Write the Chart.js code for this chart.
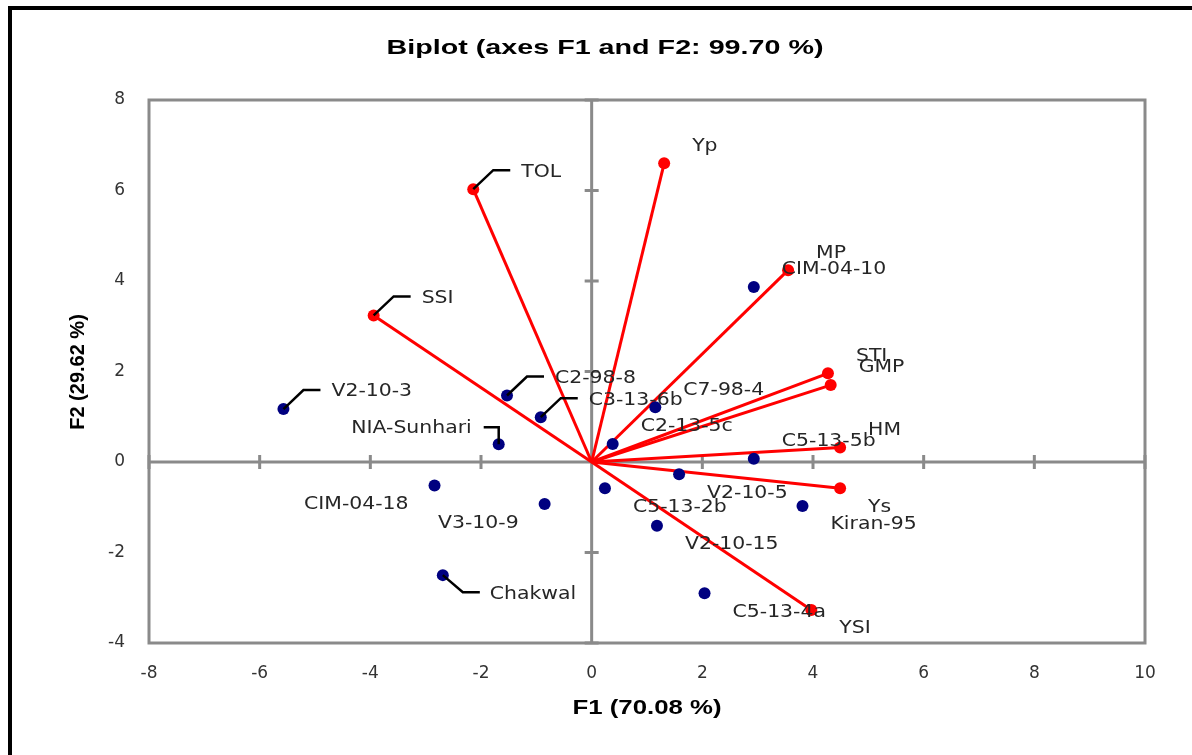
<!DOCTYPE html>
<html>
<head>
<meta charset="utf-8">
<script src="https://cdn.jsdelivr.net/npm/chart.js@4.4.1/dist/chart.umd.min.js"></script>
<style>
  html, body { margin: 0; padding: 0; background: #fff; }
  #wrap { position: relative; width: 1192px; height: 755px; overflow: hidden; }
  #frame { position: absolute; left: 8px; top: 6px; width: 1300px; height: 900px;
           border-left: 4px solid #000; border-top: 4px solid #000; }
  canvas { position: absolute; left: 0; top: 0; }
</style>
</head>
<body>
<div id="wrap">
  <div id="frame"></div>
  <canvas id="biplot" width="1192" height="755"></canvas>
</div>
<script>
// === Variables (red vectors) ===
const varNames = ['TOL', 'SSI', 'Yp', 'MP', 'STI', 'GMP', 'HM', 'Ys', 'YSI'];
const varF1 = [-2.14, -3.94, 1.31, 3.55, 4.27, 4.32, 4.49, 4.49, 3.97];
const varF2 = [6.03, 3.24, 6.60, 4.24, 1.96, 1.70, 0.32, -0.58, -3.27];

// === Observations (blue points) ===
const obsNames = ['V2-10-3', 'C2-98-8', 'C3-13-6b', 'NIA-Sunhari', 'CIM-04-10', 'C7-98-4',
  'C2-13-5c', 'C5-13-5b', 'V2-10-5', 'C5-13-2b', 'V2-10-15', 'Kiran-95', 'C5-13-4a',
  'CIM-04-18', 'V3-10-9', 'Chakwal'];
const obsF1 = [-5.57, -1.53, -0.92, -1.68, 2.93, 1.15, 0.38, 2.93, 1.58, 0.24, 1.18, 3.81, 2.04, -2.84, -0.85, -2.69];
const obsF2 = [1.17, 1.47, 0.99, 0.39, 3.87, 1.21, 0.40, 0.07, -0.27, -0.58, -1.41, -0.97, -2.90, -0.52, -0.93, -2.50];

// axis ticks
const xTicks = [-8, -6, -4, -2, 0, 2, 4, 6, 8, 10];
const yTicks = [-4, -2, 0, 2, 4, 6, 8];

const titleText = 'Biplot (axes F1 and F2: 99.70 %)';
const xTitle = 'F1 (70.08 %)';
const yTitle = 'F2 (29.62 %)';

// where each label sits relative to its point (default: above right)
const labelSpot = {
  'TOL': 'lead', 'SSI': 'lead', 'V2-10-3': 'lead', 'C2-98-8': 'lead', 'C3-13-6b': 'lead',
  'NIA-Sunhari': 'leadL', 'Chakwal': 'leadD',
  'CIM-04-18': 'bl', 'V3-10-9': 'bl',
  'V2-10-5': 'br', 'C5-13-2b': 'br', 'Ys': 'br', 'Kiran-95': 'br',
  'V2-10-15': 'br', 'C5-13-4a': 'br', 'YSI': 'br'
};

const GREY = '#8a8a8a';
const RED = '#ff0000';
const NAVY = '#000080';

function stretched(ctx, text, x, y, align, sx) {
  ctx.save();
  ctx.translate(x, y);
  ctx.scale(sx, 1);
  ctx.textAlign = align;
  ctx.textBaseline = 'middle';
  ctx.fillText(text, 0, 0);
  ctx.restore();
}

function fitText(ctx, text, cx, cy, width) {
  const w = ctx.measureText(text).width;
  stretched(ctx, text, cx, cy, 'center', width / w);
}

// frame, zero axes and their tick marks
const axesPlugin = {
  id: 'axesPlugin',
  beforeDatasetsDraw(chart) {
    const { ctx, chartArea: a, scales: { x, y } } = chart;
    const x0 = x.getPixelForValue(0), y0 = y.getPixelForValue(0);
    ctx.save();
    ctx.strokeStyle = GREY;
    ctx.lineWidth = 3;
    ctx.strokeRect(a.left, a.top, a.right - a.left, a.bottom - a.top);
    ctx.beginPath();
    ctx.moveTo(a.left, y0); ctx.lineTo(a.right, y0);
    ctx.moveTo(x0, a.top); ctx.lineTo(x0, a.bottom);
    xTicks.forEach(v => {
      if (v === 0) return;
      const px = x.getPixelForValue(v);
      ctx.moveTo(px, y0 - 7); ctx.lineTo(px, y0 + 7);
    });
    yTicks.forEach(v => {
      if (v === 0) return;
      const py = y.getPixelForValue(v);
      ctx.moveTo(x0 - 7, py); ctx.lineTo(x0 + 7, py);
    });
    ctx.stroke();
    ctx.restore();
  },
  afterDatasetsDraw(chart) {
    const { ctx, scales: { x, y } } = chart;
    ctx.save();
    ctx.fillStyle = '#262626';
    ctx.font = '17px "DejaVu Sans"';
    const sx = 1.2;

    const put = (name, vx, vy) => {
      const px = x.getPixelForValue(vx), py = y.getPixelForValue(vy);
      const spot = labelSpot[name] || 'ar';
      ctx.strokeStyle = '#000';
      ctx.lineWidth = 2.5;
      if (spot === 'lead') {
        ctx.beginPath();
        ctx.moveTo(px, py); ctx.lineTo(px + 20, py - 19); ctx.lineTo(px + 37, py - 19);
        ctx.stroke();
        stretched(ctx, name, px + 48, py - 17, 'left', sx);
      } else if (spot === 'leadD') {
        ctx.beginPath();
        ctx.moveTo(px, py); ctx.lineTo(px + 20, py + 17); ctx.lineTo(px + 37, py + 17);
        ctx.stroke();
        stretched(ctx, name, px + 47, py + 19, 'left', sx);
      } else if (spot === 'leadL') {
        ctx.beginPath();
        ctx.moveTo(px, py); ctx.lineTo(px, py - 17); ctx.lineTo(px - 15, py - 17);
        ctx.stroke();
        stretched(ctx, name, px - 27, py - 16, 'right', sx);
      } else if (spot === 'br') {
        stretched(ctx, name, px + 28, py + 19, 'left', sx);
      } else if (spot === 'bl') {
        stretched(ctx, name, px - 26, py + 19, 'right', sx);
      } else {
        stretched(ctx, name, px + 28, py - 17, 'left', sx);
      }
    };
    obsNames.forEach((n, i) => put(n, obsF1[i], obsF2[i]));
    varNames.forEach((n, i) => put(n, varF1[i], varF2[i]));

    // titles
    ctx.fillStyle = '#000';
    ctx.font = 'bold 21px "Liberation Sans"';
    fitText(ctx, titleText, 605, 48, 437);
    ctx.font = 'bold 20px "Liberation Sans"';
    fitText(ctx, xTitle, 647, 708, 149);
    ctx.save();
    ctx.translate(78, 372);
    ctx.rotate(-Math.PI / 2);
    ctx.textAlign = 'center';
    ctx.textBaseline = 'middle';
    ctx.fillText(yTitle, 0, 0);
    ctx.restore();
    ctx.restore();
  }
};

const vectorSets = varNames.map((n, i) => ({
  label: n,
  data: [{ x: 0, y: 0 }, { x: varF1[i], y: varF2[i] }],
  showLine: true,
  borderColor: RED,
  borderWidth: 3,
  pointRadius: [0, 6],
  pointBackgroundColor: RED,
  pointBorderColor: RED,
  pointBorderWidth: 0
}));

new Chart(document.getElementById('biplot'), {
  type: 'scatter',
  data: {
    datasets: [{
      label: 'Observations',
      data: obsNames.map((n, i) => ({ x: obsF1[i], y: obsF2[i] })),
      pointRadius: 6,
      pointBackgroundColor: NAVY,
      pointBorderColor: NAVY,
      pointBorderWidth: 0
    }, ...vectorSets]
  },
  options: {
    responsive: false,
    animation: false,
    events: [],
    layout: { padding: { top: 100, right: 47, left: 0, bottom: 0 } },
    plugins: { legend: { display: false }, tooltip: { enabled: false }, title: { display: false } },
    scales: {
      x: {
        type: 'linear', min: -8, max: 10,
        afterBuildTicks: s => { s.ticks = xTicks.map(v => ({ value: v })); },
        afterFit: s => { s.height = 112; },
        grid: { drawOnChartArea: false, drawTicks: false },
        border: { display: false },
        ticks: { padding: 20, color: '#333', font: { family: 'DejaVu Sans', size: 17 } }
      },
      y: {
        type: 'linear', min: -4, max: 8,
        afterBuildTicks: s => { s.ticks = yTicks.map(v => ({ value: v })); },
        afterFit: s => { s.width = 149; },
        grid: { drawOnChartArea: false, drawTicks: false },
        border: { display: false },
        ticks: { padding: 24, color: '#333', font: { family: 'DejaVu Sans', size: 17 } }
      }
    }
  },
  plugins: [axesPlugin]
});
</script>
</body>
</html>
